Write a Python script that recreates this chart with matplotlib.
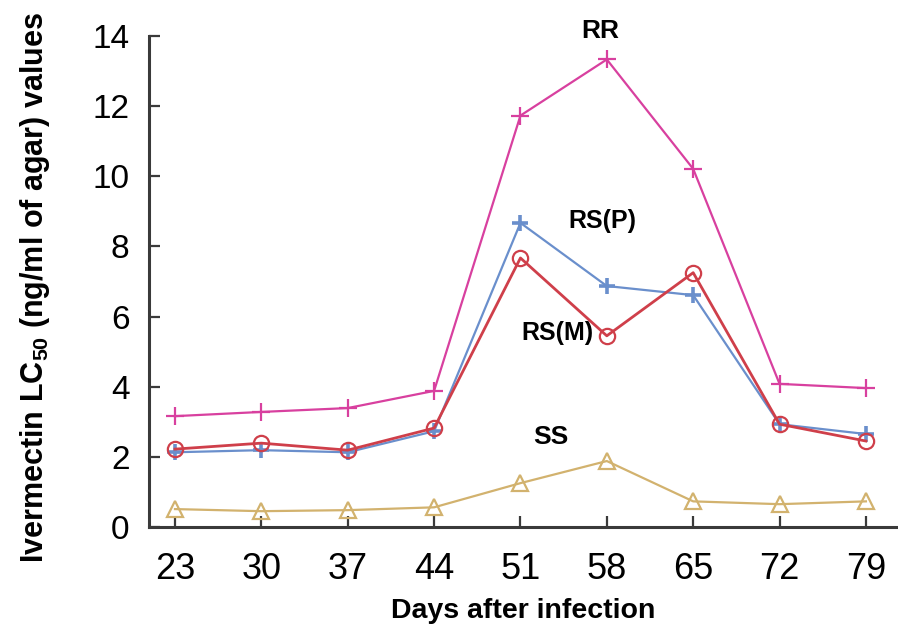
import matplotlib
matplotlib.use("Agg")
import matplotlib.pyplot as plt

days = [23, 30, 37, 44, 51, 58, 65, 72, 79]
rr = [3.16, 3.28, 3.39, 3.88, 11.73, 13.33, 10.21, 4.08, 3.96]
rs_p = [2.13, 2.19, 2.13, 2.73, 8.67, 6.87, 6.61, 2.93, 2.65]
rs_m = [2.22, 2.39, 2.19, 2.82, 7.67, 5.45, 7.25, 2.93, 2.45]
ss = [0.51, 0.45, 0.48, 0.56, 1.25, 1.88, 0.73, 0.65, 0.73]
y_ticks = [0, 2, 4, 6, 8, 10, 12, 14]

plt.rcParams["font.family"] = ["Liberation Sans", "DejaVu Sans"]
plt.rcParams["mathtext.fontset"] = "custom"
plt.rcParams["mathtext.bf"] = "Liberation Sans:bold"
plt.rcParams["mathtext.rm"] = "Liberation Sans"

fig = plt.figure(figsize=(8.98, 6.33), dpi=100)
ax = fig.add_axes([0.166, 0.1675, 0.834, 0.7757])

ax.plot(days, rr, color="#d8409f", lw=1.6, marker="+", ms=13, mew=1.6)
ax.plot(days, rs_p, color="#6a8fcc", lw=1.6, marker="+", ms=12, mew=2.6)
ax.plot(days, rs_m, color="#cf3f4a", lw=2.0, marker="o", ms=11, mfc="none", mew=1.6)
ax.plot(days, ss, color="#d2b26e", lw=1.6, marker="^", ms=11, mfc="none", mew=1.6)

ax.set_xlim(20.9, 81.6)
ax.set_ylim(0, 14)
ax.set_xticks(days)
ax.set_yticks(y_ticks)
ax.set_xticklabels([str(d) for d in days], fontsize=26)
ax.set_yticklabels([str(v) for v in y_ticks], fontsize=24)
ax.tick_params(axis="both", direction="in", length=8, width=1.6, color="#3a3a3a")
ax.tick_params(axis="x", pad=18)
ax.tick_params(axis="y", pad=14)

for s in ("top", "right"):
    ax.spines[s].set_visible(False)
for s in ("left", "bottom"):
    ax.spines[s].set_linewidth(2.2)
    ax.spines[s].set_color("#3a3a3a")

ax.set_xlabel("Days after infection", fontsize=20.5, fontweight="bold", labelpad=8)
ax.set_ylabel(r"Ivermectin LC$_{\mathbf{50}}$ (ng/ml of agar) values",
              fontsize=22, fontweight="bold")
ax.yaxis.set_label_coords(-0.13, 0.487)

ax.text(57.5, 14.13, "RR", fontsize=19, fontweight="bold", ha="center", va="center", clip_on=False)
ax.text(57.6, 8.71, "RS(P)", fontsize=18, fontweight="bold", ha="center", va="center")
ax.text(54.0, 5.53, "RS(M)", fontsize=18, fontweight="bold", ha="center", va="center")
ax.text(53.5, 2.56, "SS", fontsize=19, fontweight="bold", ha="center", va="center")

fig.savefig("out.png", dpi=100)
